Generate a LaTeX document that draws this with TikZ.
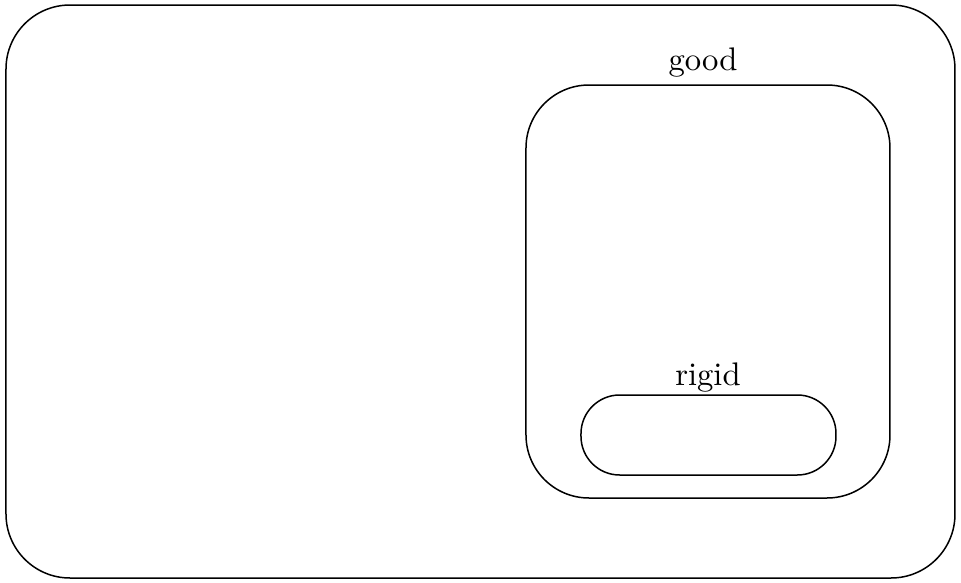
\documentclass[tikz,border=0pt]{standalone}
\begin{document}
\begin{tikzpicture}[x=0.3pt,y=-0.3pt,
  region/.style={draw=black,line width=0.45pt},
  tag/.style={inner sep=0pt,font=\fontsize{9.8}{12}\selectfont}]
  \useasboundingbox (0,0) rectangle (961,583);
  % outer universe
  \draw[region,rounded corners=19.2pt] (6,5) rectangle (955,578);
  % good region
  \draw[region,rounded corners=18.9pt] (526,85) rectangle (890,498);
  \node[tag] (good) at (703,63) {good};
  % rigid region inside good
  \draw[region,rounded corners=11.6pt] (581,395) rectangle (836,475);
  \node[tag] (rigid) at (708,378) {rigid};
\end{tikzpicture}
\end{document}
